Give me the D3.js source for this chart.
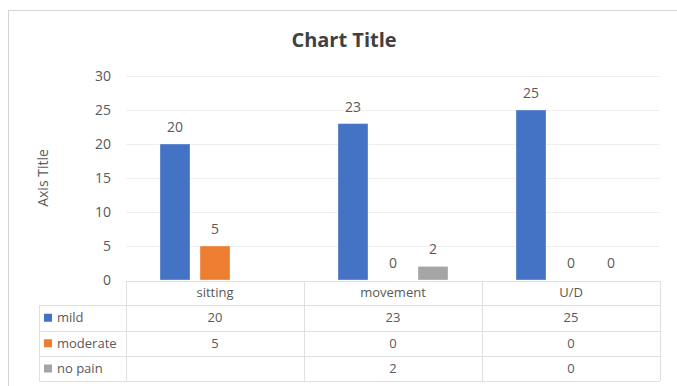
<!DOCTYPE html>
<html>
<head>
<meta charset="utf-8">
<script src="https://cdn.jsdelivr.net/npm/d3@7"></script>
<style>
  body { margin: 0; background: #fff; }
  text { font-family: "Open Sans", "Noto Sans", sans-serif; fill: #595959; }
</style>
</head>
<body>
<div id="chart"></div>
<script>
// chart data
var categories = ["sitting", "movement", "U/D"];
var seriesNames = ["mild", "moderate", "no pain"];
var mild = [20, 23, 25];
var moderate = [5, 0, 0];
var noPain = [null, 2, 0];
var yTicks = [0, 5, 10, 15, 20, 25, 30];
var colors = ["#4472C4", "#ED7D31", "#A5A5A5"];

var seriesValues = [mild, moderate, noPain];

var W = 677, H = 386;
var svg = d3.select("#chart").append("svg")
  .attr("width", W)
  .attr("height", H);

// outer chart frame (runs past the picture edge)
svg.append("rect")
  .attr("x", 8.5).attr("y", 10.5)
  .attr("width", W + 20).attr("height", H + 20)
  .attr("fill", "#fff")
  .attr("stroke", "#d4d4d4");

var plotLeft = 126, plotRight = 660, plotTop = 76, plotBottom = 280;

var x0 = d3.scaleBand().domain(categories).range([plotLeft, plotRight]);
var x1 = d3.scaleBand().domain(seriesNames)
  .range([(x0.bandwidth() - 110) / 2, (x0.bandwidth() + 110) / 2])
  .paddingInner(0.25);
var y = d3.scaleLinear().domain([0, 30]).range([plotBottom, plotTop]);

// title
svg.append("text")
  .attr("x", 344).attr("y", 47)
  .attr("text-anchor", "middle")
  .style("font-size", "20px")
  .style("font-weight", "bold")
  .style("fill", "#404040")
  .text("Chart Title");

// gridlines
svg.append("g").selectAll("line")
  .data(yTicks.slice(1))
  .enter().append("line")
  .attr("x1", plotLeft).attr("x2", plotRight)
  .attr("y1", function(d) { return Math.round(y(d)) + 0.5; })
  .attr("y2", function(d) { return Math.round(y(d)) + 0.5; })
  .attr("stroke", "#efefef");

// y tick labels
svg.append("g").selectAll("text")
  .data(yTicks)
  .enter().append("text")
  .attr("x", 111)
  .attr("y", function(d) { return y(d) + 1; })
  .attr("text-anchor", "end")
  .attr("dominant-baseline", "middle")
  .style("font-size", "14px")
  .text(function(d) { return d; });

// axis title
svg.append("text")
  .attr("transform", "translate(48,178) rotate(-90)")
  .attr("text-anchor", "middle")
  .style("font-size", "14px")
  .text("Axis Title");

// bars
var groups = svg.append("g").selectAll("g")
  .data(categories)
  .enter().append("g")
  .attr("transform", function(d) { return "translate(" + x0(d) + ",0)"; });

groups.each(function(cat, ci) {
  var g = d3.select(this);
  seriesNames.forEach(function(s, si) {
    var v = seriesValues[si][ci];
    if (v === null) return;
    if (v > 0) {
      g.append("rect")
        .attr("x", x1(s))
        .attr("y", y(v))
        .attr("width", x1.bandwidth())
        .attr("height", y(0) - y(v))
        .attr("fill", colors[si])
        .attr("stroke", "#ffffff")
        .attr("stroke-opacity", 0.35)
        .attr("stroke-width", 1);
    }
    g.append("text")
      .attr("x", x1(s) + x1.bandwidth() / 2)
      .attr("y", y(v) - 12)
      .attr("text-anchor", "middle")
      .style("font-size", "14px")
      .text(v);
  });
});

// data table
var tableLeft = 39;
var rowTop = [281, 305, 330.5, 356];
var rowBottom = 381;
var lineColor = "#e0e0e0";
var table = svg.append("g");

// horizontal lines
table.append("line")
  .attr("x1", plotLeft).attr("x2", plotRight)
  .attr("y1", rowTop[0] + 0.5).attr("y2", rowTop[0] + 0.5)
  .attr("stroke", lineColor);
rowTop.slice(1).concat([rowBottom]).forEach(function(ry) {
  table.append("line")
    .attr("x1", tableLeft).attr("x2", plotRight)
    .attr("y1", Math.round(ry) + 0.5).attr("y2", Math.round(ry) + 0.5)
    .attr("stroke", lineColor);
});
// vertical lines
table.append("line")
  .attr("x1", tableLeft + 0.5).attr("x2", tableLeft + 0.5)
  .attr("y1", rowTop[1]).attr("y2", rowBottom)
  .attr("stroke", lineColor);
categories.forEach(function(c) {
  [x0(c), x0(c) + x0.bandwidth()].forEach(function(vx) {
    table.append("line")
      .attr("x1", Math.round(vx) + 0.5).attr("x2", Math.round(vx) + 0.5)
      .attr("y1", rowTop[0]).attr("y2", rowBottom)
      .attr("stroke", lineColor);
  });
});

// category header
table.selectAll("text.cat")
  .data(categories)
  .enter().append("text")
  .attr("class", "cat")
  .attr("x", function(d) { return x0(d) + x0.bandwidth() / 2; })
  .attr("y", (rowTop[0] + rowTop[1]) / 2 + 1)
  .attr("text-anchor", "middle")
  .attr("dominant-baseline", "middle")
  .style("font-size", "13px")
  .text(function(d) { return d; });

// series rows
seriesNames.forEach(function(s, si) {
  var cy = (rowTop[si + 1] + (si < 2 ? rowTop[si + 2] : rowBottom)) / 2;
  table.append("rect")
    .attr("x", 44).attr("y", cy - 4)
    .attr("width", 8).attr("height", 8)
    .attr("fill", colors[si]);
  table.append("text")
    .attr("x", 57).attr("y", cy + 1)
    .attr("dominant-baseline", "middle")
    .style("font-size", "13px")
    .text(s);
  categories.forEach(function(c, ci) {
    var v = seriesValues[si][ci];
    if (v === null) return;
    table.append("text")
      .attr("x", x0(c) + x0.bandwidth() / 2)
      .attr("y", cy + 1)
      .attr("text-anchor", "middle")
      .attr("dominant-baseline", "middle")
      .style("font-size", "13px")
      .text(v);
  });
});
</script>
</body>
</html>
